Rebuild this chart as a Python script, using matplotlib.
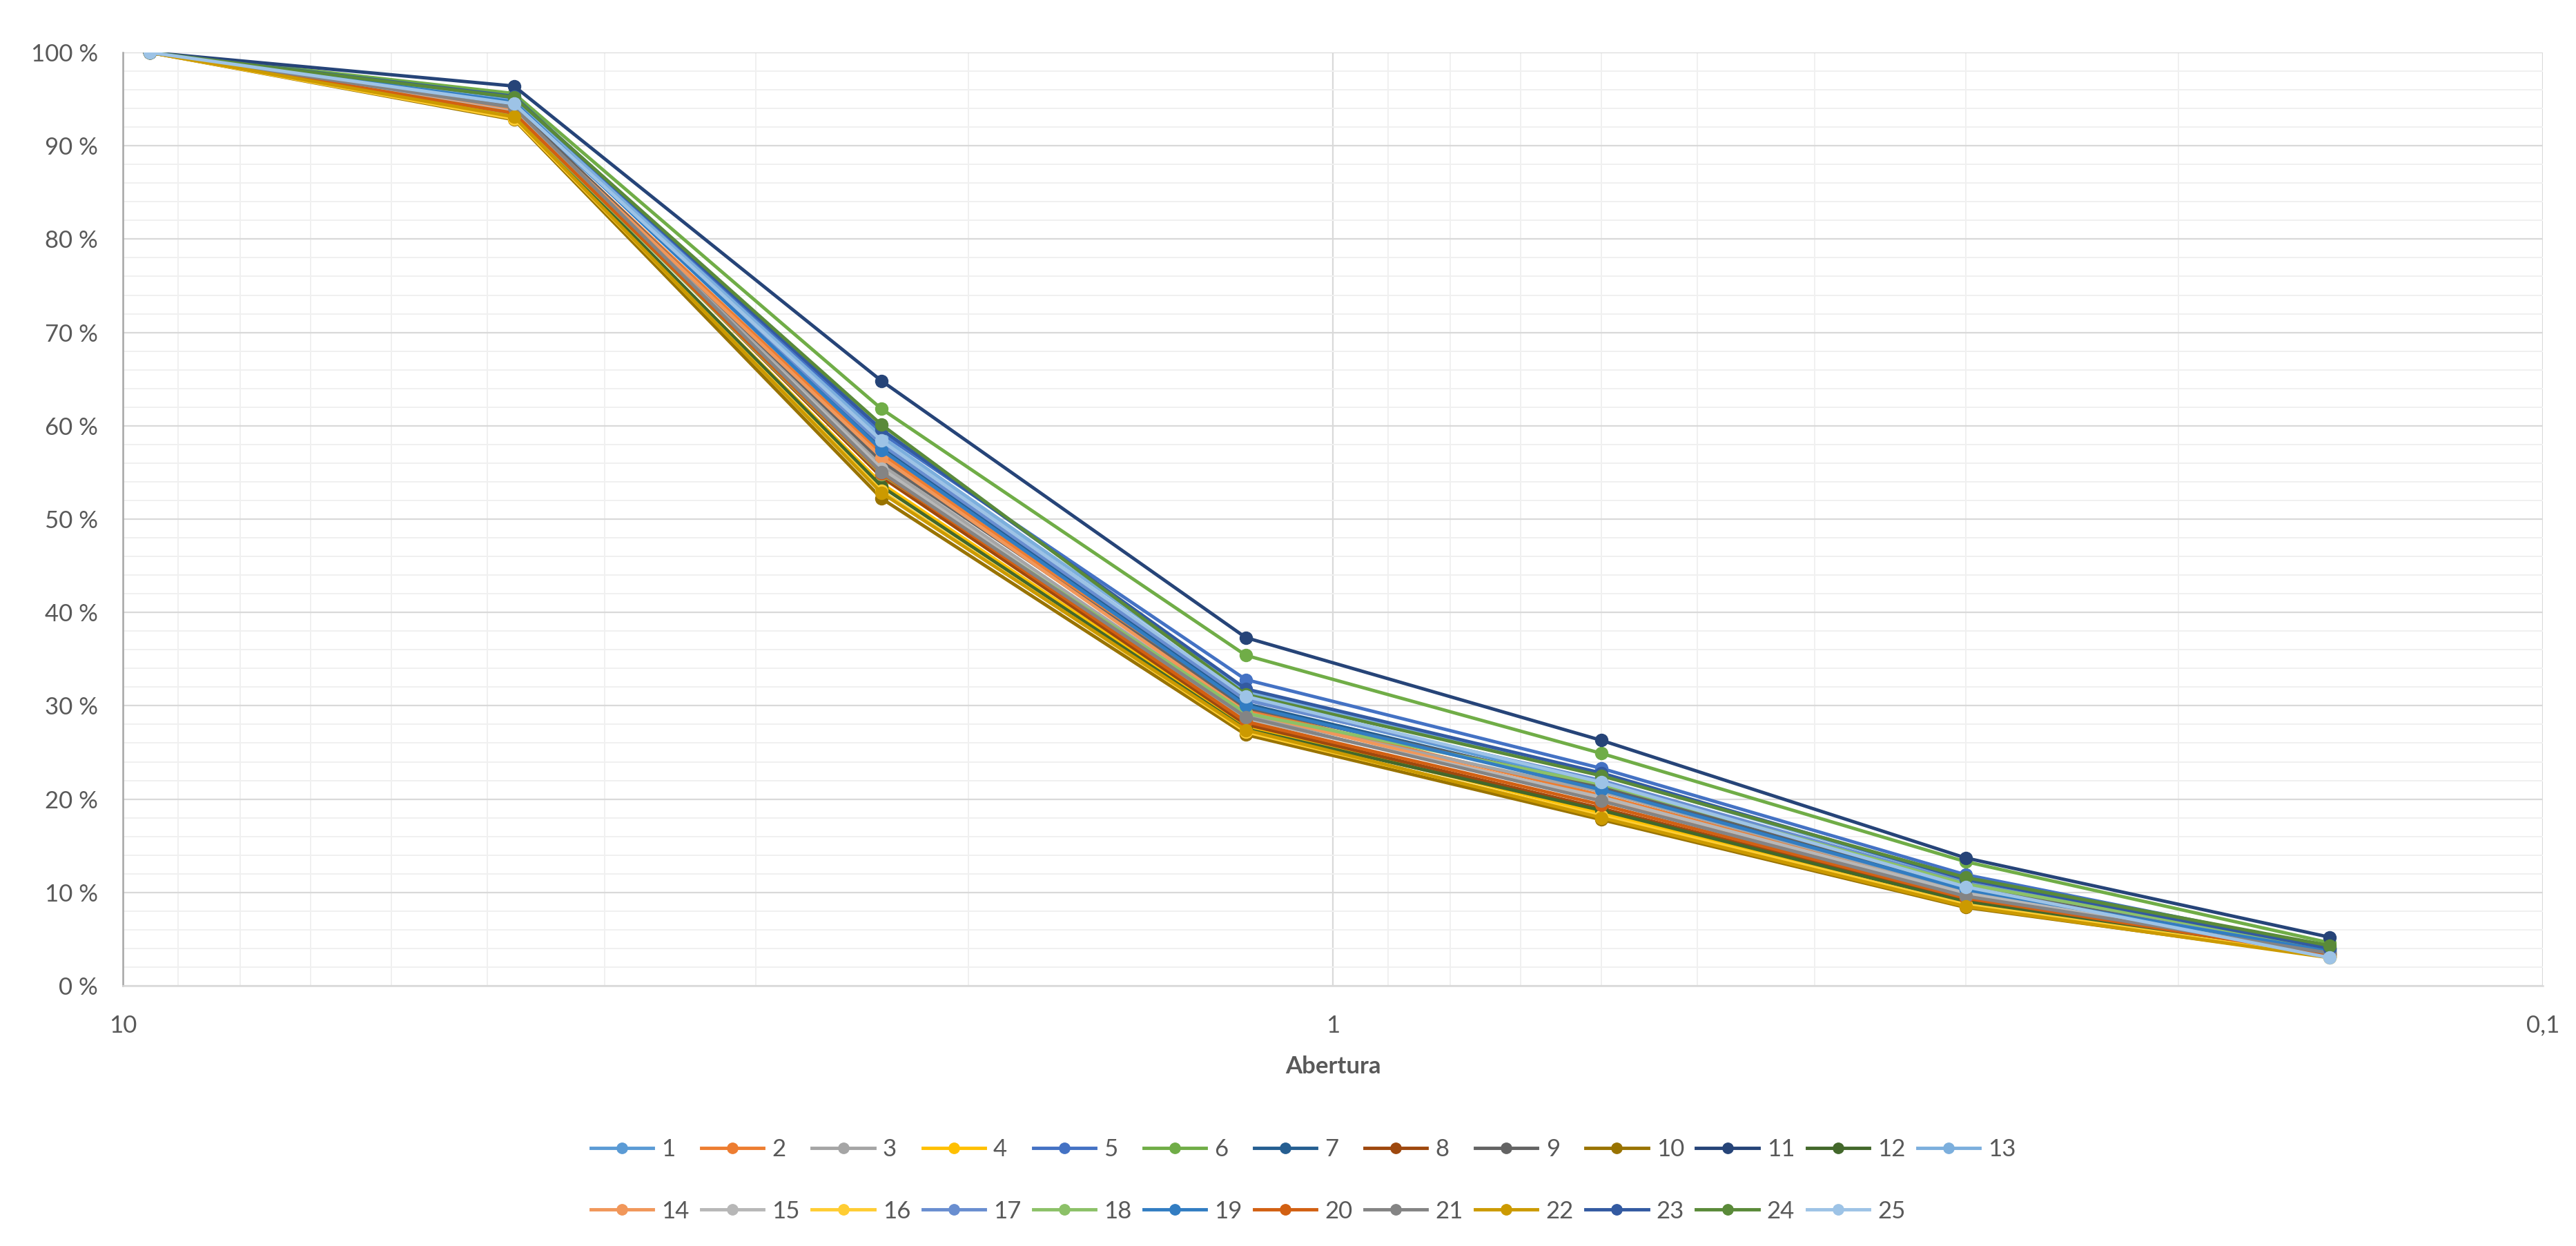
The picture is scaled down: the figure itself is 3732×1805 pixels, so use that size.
import numpy as np
import matplotlib
matplotlib.use("Agg")
from matplotlib import pyplot as plt
from matplotlib.ticker import FixedLocator, FixedFormatter, MultipleLocator

# sieve openings (mm) and passing percentages per sample
aberturas = [9.5, 4.75, 2.36, 1.18, 0.6, 0.3, 0.15]
series_names = [str(i) for i in range(1, 26)]

s1 = [100, 94.3, 58.6, 30.8, 21.5, 10.8, 3.4]
s2 = [100, 94.0, 57.0, 29.6, 20.4, 10.0, 3.5]
s3 = [100, 93.9, 55.8, 29.0, 20.8, 10.2, 3.6]
s4 = [100, 93.0, 53.8, 27.8, 18.5, 8.9, 3.2]
s5 = [100, 95.0, 59.2, 32.8, 23.3, 11.9, 4.1]
s6 = [100, 95.6, 61.8, 35.4, 24.9, 13.3, 4.6]
s7 = [100, 94.9, 57.8, 30.2, 21.2, 10.5, 3.6]
s8 = [100, 93.7, 54.5, 28.0, 19.0, 9.2, 3.2]
s9 = [100, 94.2, 56.2, 29.8, 21.4, 10.7, 3.9]
s10 = [100, 92.8, 52.2, 26.9, 17.8, 8.4, 3.1]
s11 = [100, 96.4, 64.8, 37.3, 26.3, 13.7, 5.2]
s12 = [100, 93.3, 53.5, 27.5, 18.8, 9.0, 3.4]
s13 = [100, 94.8, 58.8, 31.5, 22.6, 11.3, 3.9]
s14 = [100, 93.8, 56.6, 29.3, 20.0, 9.8, 3.4]
s15 = [100, 93.6, 55.4, 28.6, 20.2, 9.9, 3.4]
s16 = [100, 92.9, 53.0, 27.2, 18.2, 8.7, 3.1]
s17 = [100, 94.6, 58.0, 30.6, 22.0, 11.0, 3.8]
s18 = [100, 93.4, 54.8, 29.2, 21.6, 10.9, 4.0]
s19 = [100, 94.7, 57.4, 30.0, 21.0, 10.3, 3.7]
s20 = [100, 93.5, 54.9, 28.3, 19.4, 9.4, 3.3]
s21 = [100, 94.1, 55.0, 28.8, 19.8, 9.6, 3.5]
s22 = [100, 93.1, 52.8, 27.4, 18.0, 8.5, 3.0]
s23 = [100, 95.3, 59.6, 31.8, 22.8, 11.4, 4.0]
s24 = [100, 95.2, 60.1, 31.2, 22.5, 11.6, 4.3]
s25 = [100, 94.5, 58.4, 31.0, 21.8, 10.6, 3.0]

all_series = [s1, s2, s3, s4, s5, s6, s7, s8, s9, s10, s11, s12, s13,
              s14, s15, s16, s17, s18, s19, s20, s21, s22, s23, s24, s25]

# excel office palette (accents + shades)
colors = ["#5B9BD5", "#ED7D31", "#A5A5A5", "#FFC000", "#4472C4", "#70AD47",
          "#255E91", "#9E480E", "#636363", "#997300", "#264478", "#43682B",
          "#7CAFDD", "#F1975A", "#B7B7B7", "#FFCD33", "#698ED0", "#8CC168",
          "#327DC2", "#D26012", "#848484", "#CC9A00", "#335AA1", "#5A8A39",
          "#9DC3E6"]

x_ticks = [10, 1, 0.1]
x_ticklabels = ["10", "1", "0,1"]
y_ticks = list(range(0, 101, 10))
y_ticklabels = [f"{v} %" for v in y_ticks]

TXT = "#595959"
plt.rcParams['font.family'] = ['Lato', 'DejaVu Sans']

fig = plt.figure(figsize=(37.32, 18.05), dpi=100)
ax = fig.add_axes([178 / 3732, 1 - 1428 / 1805, (3684 - 178) / 3732, (1428 - 76) / 1805])

handles = []
for name, vals, col in zip(series_names, all_series, colors):
    h, = ax.plot(aberturas, vals, color=col, lw=3.5, marker="o", ms=13,
                 markeredgecolor=col, label=name, zorder=3)
    handles.append(h)

ax.set_xscale("log")
ax.set_xlim(10, 0.1)
ax.set_ylim(0, 100)

ax.xaxis.set_major_locator(FixedLocator(x_ticks))
ax.xaxis.set_major_formatter(FixedFormatter(x_ticklabels))
ax.xaxis.set_minor_locator(FixedLocator([m * d for d in (0.1, 1) for m in range(2, 10)]))
ax.xaxis.set_minor_formatter(FixedFormatter([]))
ax.yaxis.set_major_locator(FixedLocator(y_ticks))
ax.yaxis.set_major_formatter(FixedFormatter(y_ticklabels))
ax.yaxis.set_minor_locator(MultipleLocator(2))

ax.grid(which="major", color="#D9D9D9", lw=1.6, zorder=0)
ax.grid(which="minor", color="#F0F0F0", lw=1.4, zorder=0)
ax.set_axisbelow(True)

ax.tick_params(which="both", length=0)
ax.tick_params(axis="y", labelsize=25, labelcolor=TXT, pad=26)
ax.tick_params(axis="x", labelsize=25, labelcolor=TXT, pad=30)

for side in ("top", "right"):
    ax.spines[side].set_visible(False)
ax.spines["left"].set_color("#A6A6A6")
ax.spines["left"].set_linewidth(1.8)
ax.spines["bottom"].set_color("#D9D9D9")
ax.spines["bottom"].set_linewidth(1.8)

ax.set_xlabel("Abertura", fontsize=25, fontweight="bold", color=TXT)
ax.xaxis.set_label_coords(0.5, (1428 - 1545) / 1352)
ax.xaxis.label.set_va("center")

# legend laid out row-wise: 1..13 on top, 14..25 below
ncol = 13
order = []
for c in range(ncol):
    order.append(c)
    if c + ncol < len(handles):
        order.append(c + ncol)
leg = fig.legend([handles[i] for i in order], [series_names[i] for i in order],
                 loc="center", bbox_to_anchor=(0.506, 1 - 1710 / 1805), ncol=ncol,
                 frameon=False, fontsize=25, handlelength=2.6, handletextpad=0.35,
                 columnspacing=0.5, labelspacing=1.65, markerscale=0.85)
for t in leg.get_texts():
    t.set_color(TXT)

fig.savefig("out.png", dpi=100, facecolor="white")
